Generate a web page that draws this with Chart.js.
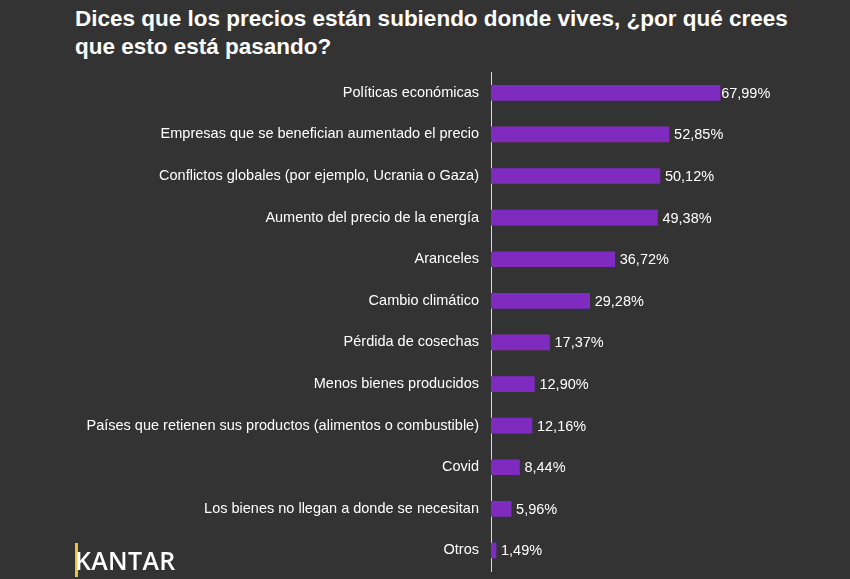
<!DOCTYPE html>
<html>
<head>
<meta charset="utf-8">
<script src="https://cdn.jsdelivr.net/npm/chart.js@4"></script>
<style>
  body { margin: 0; background: #333333; font-family: "Liberation Sans", Arial, sans-serif; }
  #wrap { position: relative; width: 850px; height: 579px; overflow: hidden; }
  h1 { position: absolute; left: 75px; top: 5px; margin: 0; color: #fff; font-size: 22.5px; line-height: 28px; font-weight: bold; width: 745px; }
  #chart { position: absolute; left: 0; top: 0; }
  #logo { position: absolute; left: 75px; top: 543px; color: #fff; font-family: "Open Sans", sans-serif; font-size: 25px; font-weight: 600; letter-spacing: 0.3px; }
  #logo span { border-left: 3px solid #e8c33b; margin-right: -3px; }
</style>
</head>
<body>
<div id="wrap">
  <h1>Dices que los precios están subiendo donde vives, ¿por qué crees que esto está pasando?</h1>
  <canvas id="chart" width="850" height="592"></canvas>
  <div id="logo"><span></span>KANTAR</div>
</div>
<script>
// Categorías y valores (%)
const categories = [
    "Políticas económicas",
    "Empresas que se benefician aumentado el precio",
    "Conflictos globales (por ejemplo, Ucrania o Gaza)",
    "Aumento del precio de la energía",
    "Aranceles",
    "Cambio climático",
    "Pérdida de cosechas",
    "Menos bienes producidos",
    "Países que retienen sus productos (alimentos o combustible)",
    "Covid",
    "Los bienes no llegan a donde se necesitan",
    "Otros"
];
const values = [67.99, 52.85, 50.12, 49.38, 36.72, 29.28, 17.37, 12.90, 12.16, 8.44, 5.96, 1.49];

// Etiquetas de valor al final de cada barra
const valueLabels = {
    id: 'valueLabels',
    afterDatasetsDraw(chart) {
        const ctx = chart.ctx;
        const meta = chart.getDatasetMeta(0);
        ctx.save();
        ctx.fillStyle = '#ffffff';
        ctx.font = '14.5px "Liberation Sans", Arial, sans-serif';
        ctx.textBaseline = 'middle';
        meta.data.forEach((bar, i) => {
            const txt = values[i].toFixed(2).replace('.', ',') + '%';
            ctx.fillText(txt, bar.x + (i === 0 ? 1 : 5), bar.y + 1);
        });
        ctx.restore();
    }
};

const ctx = document.getElementById('chart').getContext('2d');
new Chart(ctx, {
    type: 'bar',
    data: {
        labels: categories,
        datasets: [{
            data: values,
            backgroundColor: '#7f2bbf',
            barThickness: 15
        }]
    },
    options: {
        indexAxis: 'y',
        responsive: false,
        animation: false,
        layout: { padding: { top: 72, bottom: 4, left: 0, right: 22 } },
        plugins: { legend: { display: false }, tooltip: { enabled: false } },
        scales: {
            x: {
                min: 0, max: 100,
                display: false
            },
            y: {
                afterFit(scale) { scale.width = 491; },
                grid: { display: false, drawTicks: false },
                border: { color: '#d9d9d9', width: 1 },
                ticks: {
                    color: '#ffffff',
                    padding: 12,
                    font: { family: '"Liberation Sans", Arial, sans-serif', size: 14.5 }
                }
            }
        }
    },
    plugins: [valueLabels]
});
</script>
</body>
</html>
